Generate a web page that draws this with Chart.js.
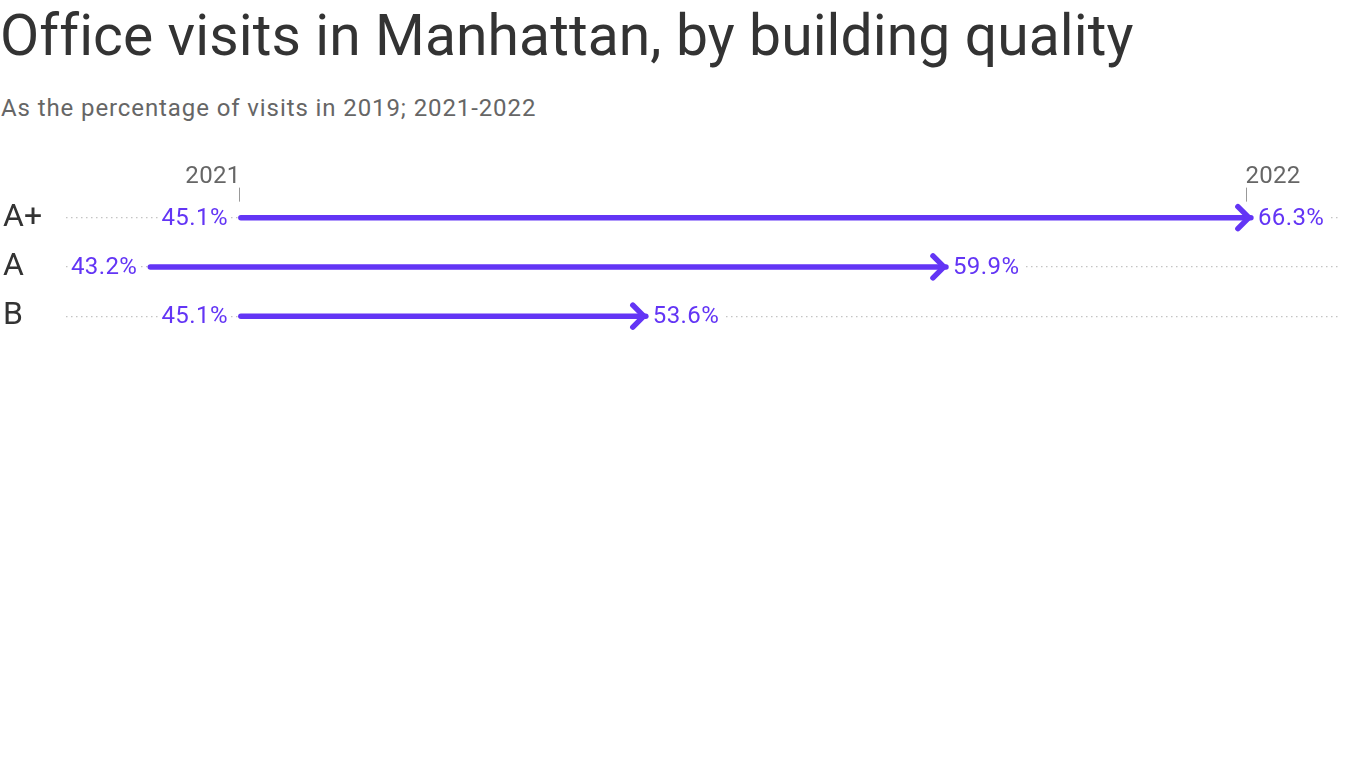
<!DOCTYPE html>
<html>
<head>
<meta charset="utf-8">
<script src="https://cdn.jsdelivr.net/npm/chart.js@4.4.1/dist/chart.umd.min.js"></script>
<style>
  html, body { margin: 0; padding: 0; background: #fff; width: 1366px; height: 768px; overflow: hidden; }
  #title { position: absolute; left: 0; top: 2px; font-family: Roboto, sans-serif; font-size: 57px; letter-spacing: 0.1px; color: #333; white-space: nowrap; line-height: 68px; }
  #subtitle { position: absolute; left: 1px; top: 92px; font-family: Roboto, sans-serif; font-size: 24px; color: #666; white-space: nowrap; line-height: 32px; letter-spacing: 0.9px; }
  #wrap { position: absolute; left: 0; top: 140px; width: 1366px; height: 220px; }
</style>
</head>
<body>
<div id="title">Office visits in Manhattan, by building quality</div>
<div id="subtitle">As the percentage of visits in 2019; 2021-2022</div>
<div id="wrap"><canvas id="c"></canvas></div>
<script>
const categories = ['A+', 'A', 'B'];
const values2021 = [45.1, 43.2, 45.1];
const values2022 = [66.3, 59.9, 53.6];
const yearLabels = ['2021', '2022'];

const PURPLE = '#6335f5';

const datasets = categories.map((cat, i) => ({
  label: cat,
  data: [{ x: values2021[i], y: cat }, { x: values2022[i], y: cat }],
  showLine: true,
  borderColor: PURPLE,
  borderWidth: 5.5,
  borderCapStyle: 'round',
  pointRadius: 0,
  pointHoverRadius: 0
}));

const arrowPlugin = {
  id: 'arrows',
  afterDatasetsDraw(chart) {
    const ctx = chart.ctx;
    const xs = chart.scales.x, ys = chart.scales.y;
    ctx.save();
    categories.forEach((cat, i) => {
      const px = xs.getPixelForValue(values2022[i]) - 2;
      const py = ys.getPixelForValue(i);
      ctx.strokeStyle = PURPLE;
      ctx.lineWidth = 5.5;
      ctx.lineCap = 'round';
      ctx.lineJoin = 'round';
      ctx.beginPath();
      ctx.moveTo(px - 11, py - 11);
      ctx.lineTo(px, py);
      ctx.lineTo(px - 11, py + 11);
      ctx.stroke();
    });
    ctx.font = '24px Roboto, sans-serif';
    ctx.letterSpacing = '0.4px';
    ctx.textBaseline = 'middle';
    categories.forEach((cat, i) => {
      const py = ys.getPixelForValue(i);
      const x1 = xs.getPixelForValue(values2021[i]);
      const x2 = xs.getPixelForValue(values2022[i]);
      const t1 = values2021[i].toFixed(1) + '%';
      const t2 = values2022[i].toFixed(1) + '%';
      const w1 = ctx.measureText(t1).width;
      const w2 = ctx.measureText(t2).width;
      ctx.fillStyle = '#fff';
      ctx.fillRect(x1 - 13 - w1 - 3, py - 13, w1 + 6, 26);
      ctx.fillRect(x2 + 5, py - 13, w2 + 6, 26);
      ctx.fillStyle = PURPLE;
      ctx.textAlign = 'right';
      ctx.fillText(t1, x1 - 13, py + 1);
      ctx.textAlign = 'left';
      ctx.fillText(t2, x2 + 7, py + 1);
    });
    const yTop = ys.getPixelForValue(0);
    ctx.font = '24px Roboto, sans-serif';
    ctx.letterSpacing = '0.3px';
    ctx.fillStyle = '#666';
    ctx.strokeStyle = '#999';
    ctx.lineWidth = 1;
    ctx.lineCap = 'butt';
    ctx.textBaseline = 'alphabetic';
    [values2021[0], values2022[0]].forEach((v, k) => {
      const px = Math.round(xs.getPixelForValue(v)) - 1.5 - (k === 1 ? 3 : 0);
      ctx.beginPath();
      ctx.moveTo(px, yTop - 30);
      ctx.lineTo(px, yTop - 16);
      ctx.stroke();
      ctx.textAlign = k === 0 ? 'right' : 'left';
      ctx.fillText(yearLabels[k], k === 0 ? px + 1 : px - 1, yTop - 35);
    });
    ctx.restore();
  }
};

new Chart(document.getElementById('c'), {
  type: 'scatter',
  data: { datasets },
  options: {
    responsive: true,
    maintainAspectRatio: false,
    animation: false,
    events: [],
    layout: { padding: { left: 3, right: 26, top: 53, bottom: 18 } },
    plugins: { legend: { display: false }, tooltip: { enabled: false } },
    scales: {
      x: { type: 'linear', display: false, min: 41.43, max: 68.17 },
      y: {
        type: 'category',
        labels: categories,
        offset: true,
        afterFit(scale) { scale.width = 63; },
        border: { display: false, dash: [1.5, 3.5] },
        grid: { offset: false, drawTicks: false, color: '#c4c4c4', lineWidth: 1.2 },
        ticks: { crossAlign: 'far', padding: 0, color: '#333', font: { family: 'Roboto, sans-serif', size: 32 } }
      }
    }
  },
  plugins: [arrowPlugin]
});
</script>
</body>
</html>
